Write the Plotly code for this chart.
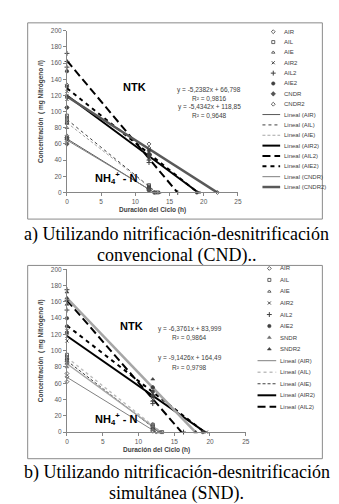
import numpy as np
import plotly.graph_objects as go

W, H = 339, 504

# ---------------- DATA ----------------
# sampling times (h): three replicates at start and after 12 h, plus the final sample
t_runs = [0, 0, 0, 12, 12, 12]

# (a) conventional nitrification-denitrification (CND)
a_names = ["AIR", "AIL", "AIE", "AIR2", "AIL2", "AIE2", "CNDR", "CNDR2"]
a_end_time = [13.0, 13.3, 13.5, 19.3, 16.2, 19.0, 12.75, 22.0]
a_AIR = [70, 66, 63, 5, 3, 2, 0]
a_AIL = [95, 90, 86, 9, 7, 5, 0]
a_AIE = [93, 86, 80, 8, 6, 4, 0]
a_AIR2 = [125, 120, 115, 47, 45, 42, 0]
a_AIL2 = [172, 162, 155, 48, 40, 37, 0]
a_AIE2 = [150, 131, 105, 52, 48, 45, 0]
a_CNDR = [68, 66, 60, 5, 4, 3, 0]
a_CNDR2 = [133, 118, 105, 60, 55, 46, 0]
a_equations = ["y = -5,2382x + 66,798", "R² = 0,9816", "y = -5,4342x + 118,85", "R² = 0,9648"]

# (b) simultaneous nitrification-denitrification (SND)
b_names = ["AIR", "AIL", "AIE", "AIR2", "AIL2", "AIE2", "SNDR", "SNDR2"]
b_end_time = [12.5, 13.3, 13.0, 19.5, 16.3, 19.0, 13.2, 18.0]
b_AIR = [72, 68, 62, 4, 2, 1, 0]
b_AIL = [95, 92, 88, 9, 8, 6, 0]
b_AIE = [90, 88, 85, 7, 5, 4, 0]
b_AIR2 = [125, 118, 112, 47, 45, 40, 0]
b_AIL2 = [175, 162, 150, 45, 38, 35, 0]
b_AIE2 = [140, 130, 122, 55, 50, 45, 0]
b_SNDR = [88, 84, 80, 10, 7, 3, 0]
b_SNDR2 = [172, 165, 157, 65, 55, 43, 0]
b_equations = ["y = -6,3761x + 83,999", "R² = 0,9864", "y = -9,1426x + 164,49", "R² = 0,9798"]

x_ticks = [0, 5, 10, 15, 20, 25]
y_ticks = [0, 20, 40, 60, 80, 100, 120, 140, 160, 180, 200]

a_values = [a_AIR, a_AIL, a_AIE, a_AIR2, a_AIL2, a_AIE2, a_CNDR, a_CNDR2]
b_values = [b_AIR, b_AIL, b_AIE, b_AIR2, b_AIL2, b_AIE2, b_SNDR, b_SNDR2]

# ---------------- STYLES ----------------
FONT = "Liberation Sans"
DARK = "#404040"
a_markers = [
    dict(symbol="diamond-open", size=3, color=DARK, line=dict(width=0.8, color=DARK)),
    dict(symbol="square-open", size=3, color=DARK, line=dict(width=0.8, color=DARK)),
    dict(symbol="triangle-up-open", size=3, color=DARK, line=dict(width=0.8, color=DARK)),
    dict(symbol="x-thin-open", size=3, color=DARK, line=dict(width=1, color=DARK)),
    dict(symbol="cross-thin-open", size=3.5, color=DARK, line=dict(width=1, color=DARK)),
    dict(symbol="circle", size=3.5, color=DARK, line=dict(width=0.5, color=DARK)),
    dict(symbol="diamond", size=3.5, color="#555555", line=dict(width=0.5, color=DARK)),
    dict(symbol="diamond-open", size=3, color=DARK, line=dict(width=0.8, color=DARK)),
]
b_markers = a_markers[:6] + [
    dict(symbol="triangle-up", size=3.5, color="#707070", line=dict(width=0.5, color="#707070")),
    dict(symbol="triangle-up", size=3.5, color=DARK, line=dict(width=0.5, color=DARK)),
]
a_lines = [
    dict(color="#595959", width=1, dash="solid"),
    dict(color="#404040", width=1, dash="dot"),
    dict(color="#a6a6a6", width=1, dash="3px,2px"),
    dict(color="black", width=2, dash="solid"),
    dict(color="black", width=2, dash="8px,4px"),
    dict(color="black", width=2, dash="4px,4px"),
    dict(color="#7f7f7f", width=1, dash="solid"),
    dict(color="#595959", width=2.5, dash="solid"),
]
b_lines = [
    dict(color="#808080", width=1, dash="solid"),
    dict(color="#bfbfbf", width=1.5, dash="dot"),
    dict(color="#404040", width=1, dash="3px,2px"),
    dict(color="black", width=2, dash="solid"),
    dict(color="black", width=2, dash="8px,4px"),
    dict(color="black", width=2, dash="4px,4px"),
    dict(color="#a6a6a6", width=1.5, dash="solid"),
    dict(color="#a6a6a6", width=2.5, dash="solid"),
]
b_legend_lines = 5  # the SND legend only lists the first five trend lines


def px(x):
    return x / W


def py(y):
    return 1 - y / H


fig = go.Figure()

panels = [
    dict(names=a_names, vals=a_values, ends=a_end_time, markers=a_markers, lines=a_lines,
         xa="x", ya="y"),
    dict(names=b_names, vals=b_values, ends=b_end_time, markers=b_markers, lines=b_lines,
         xa="x2", ya="y2"),
]

for p in panels:
    # trend lines (least squares, drawn over each series' time range)
    for name, v, te, ls in zip(p["names"], p["vals"], p["ends"], p["lines"]):
        t = np.array(t_runs + [te], dtype=float)
        y = np.array(v, dtype=float)
        slope, icpt = np.polyfit(t, y, 1)
        tt = np.array([t.min(), t.max()])
        fig.add_trace(go.Scatter(x=tt, y=icpt + slope * tt, mode="lines", line=ls,
                                 xaxis=p["xa"], yaxis=p["ya"], showlegend=False,
                                 cliponaxis=False, hoverinfo="skip"))
    # measured points
    for name, v, te, mk in zip(p["names"], p["vals"], p["ends"], p["markers"]):
        fig.add_trace(go.Scatter(x=t_runs + [te], y=v, mode="markers", marker=mk, name=name,
                                 xaxis=p["xa"], yaxis=p["ya"], showlegend=False,
                                 cliponaxis=False))

axis_common = dict(showline=True, linecolor="#868686", linewidth=1, ticks="outside",
                   ticklen=3, tickcolor="#868686", showgrid=False, zeroline=False,
                   tickfont=dict(family=FONT, size=6.5, color="#595959"))

# panel geometry in pixels
A_X0, A_X1, A_Y0, A_Y1 = 58, 232, 183, 19
B_X0, B_X1, B_Y0, B_Y1 = 58, 240, 426, 261

fig.update_layout(
    width=W, height=H, margin=dict(l=0, r=0, t=0, b=0),
    paper_bgcolor="white", plot_bgcolor="rgba(0,0,0,0)", showlegend=False,
    xaxis=dict(domain=[px(A_X0), px(A_X1)], range=[0, 25], tickvals=x_ticks, anchor="y", **axis_common),
    yaxis=dict(domain=[py(A_Y0), py(A_Y1)], range=[0, 200], tickvals=y_ticks, anchor="x", **axis_common),
    xaxis2=dict(domain=[px(B_X0), px(B_X1)], range=[0, 25], tickvals=x_ticks, anchor="y2", **axis_common),
    yaxis2=dict(domain=[py(B_Y0), py(B_Y1)], range=[0, 200], tickvals=y_ticks, anchor="x2", **axis_common),
    xaxis3=dict(domain=[0, 1], range=[0, W], visible=False, anchor="y3"),
    yaxis3=dict(domain=[0, 1], range=[H, 0], visible=False, anchor="x3"),
)

shapes = []
ann = []
# chart boxes
for (x0, y0, x1, y1) in [(18, 11, 318, 210), (18, 257, 318, 453)]:
    shapes.append(dict(type="rect", xref="paper", yref="paper", x0=px(x0), x1=px(x1),
                       y0=py(y1), y1=py(y0), line=dict(color="#8a8a8a", width=1)))


def text(x, y, s, size=6.5, bold=False, color="#404040", family=FONT, xanchor="center", angle=0):
    ann.append(dict(xref="paper", yref="paper", x=px(x), y=py(y), text=("<b>%s</b>" % s) if bold else s,
                    showarrow=False, xanchor=xanchor, yanchor="middle", textangle=angle,
                    font=dict(family=family, size=size, color=color)))


# axis titles
text(31, (A_Y0 + A_Y1) / 2, "Concentración  ( mg Nitrógeno /l)", size=6.5, bold=True, angle=-90)
text(145, 201, "Duración del Ciclo (h)", size=6.5, bold=True)
text(31, (B_Y0 + B_Y1) / 2, "Concentración  ( mg Nitrógeno /l)", size=6.5, bold=True, angle=-90)
text(149, 444, "Duración del Ciclo (h)", size=6.5, bold=True)

# region labels
text(127, 76, "NTK", size=11, bold=True, color="black")
text(108, 168, "NH<sub>4</sub><sup>+</sup> - N", size=11, bold=True, color="black")
text(124, 318, "NTK", size=11, bold=True, color="black")
text(108, 413, "NH<sub>4</sub><sup>+</sup> - N", size=11, bold=True, color="black")

# equations
for i, s in enumerate(a_equations):
    text(203, 79 + i * 8.8, s, size=6.5)
for i, (s, yy) in enumerate(zip(b_equations, [321, 330, 351, 360])):
    text(183, yy, s, size=6.5)

# captions
CAP = dict(size=18, color="black", family="Liberation Serif")
text(169.5, 226, "a) Utilizando nitrificación-desnitrificación", **CAP)
text(169.5, 247, "convencional (CND)..", **CAP)
text(169.5, 467, "b) Utilizando nitrificación-desnitrificación", **CAP)
text(169.5, 488, "simultánea (SND).", **CAP)


# manual legends
def legend(names, markers, lines, n_lines, y0, dy, mx, tx, lx0, lx1):
    i = 0
    for name, mk in zip(names, markers):
        yy = y0 + i * dy
        fig.add_trace(go.Scatter(x=[mx], y=[yy], mode="markers", marker=mk, xaxis="x3", yaxis="y3",
                                 showlegend=False, hoverinfo="skip", cliponaxis=False))
        text(tx, yy, name, size=6, xanchor="left")
        i += 1
    for name, ls in list(zip(names, lines))[:n_lines]:
        yy = y0 + i * dy
        fig.add_trace(go.Scatter(x=[lx0, lx1], y=[yy, yy], mode="lines", line=ls, xaxis="x3", yaxis="y3",
                                 showlegend=False, hoverinfo="skip", cliponaxis=False))
        text(lx1 + 2, yy, "Lineal (%s)" % name, size=6, xanchor="left")
        i += 1


legend(a_names, a_markers, a_lines, 8, 20, 10.5, 268, 277, 257, 275)
legend(b_names, b_markers, b_lines, b_legend_lines, 260, 11.7, 264, 273, 252, 271)

fig.update_layout(shapes=shapes, annotations=ann)
fig.write_html("out.html")
